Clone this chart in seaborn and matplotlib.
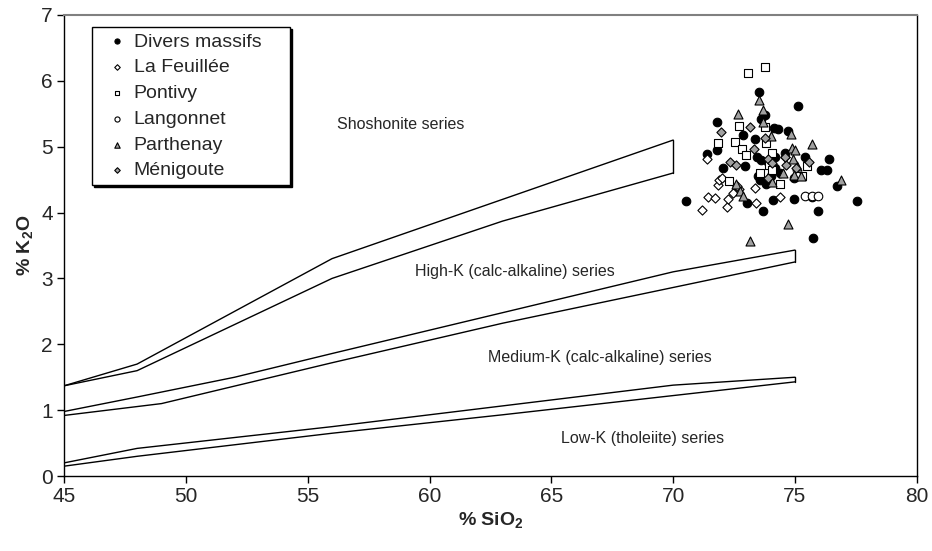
import numpy as np
import pandas as pd
import matplotlib
matplotlib.use('Agg')
import matplotlib.pyplot as plt
import seaborn as sns

# Boundary bands (SiO2, K2O)
shosho_up_x = [45, 48, 56, 70]
shosho_up_y = [1.37, 1.70, 3.30, 5.10]
shosho_lo_x = [45, 48, 56, 63, 70]
shosho_lo_y = [1.37, 1.60, 3.00, 3.87, 4.60]

highk_up_x = [45, 48, 52, 56, 70, 75]
highk_up_y = [0.98, 1.20, 1.50, 1.86, 3.10, 3.43]
highk_lo_x = [45, 49, 56, 63, 75]
highk_lo_y = [0.92, 1.10, 1.72, 2.32, 3.25]

lowk_up_x = [45, 48, 56, 70, 75]
lowk_up_y = [0.20, 0.42, 0.75, 1.38, 1.50]
lowk_lo_x = [45, 48, 56, 63, 75]
lowk_lo_y = [0.15, 0.30, 0.65, 0.93, 1.43]

# Samples
divers_x = [73.53, 75.14, 71.80, 73.75, 73.61, 74.13, 74.30, 74.70, 71.37, 71.80,
            72.87, 73.34, 72.05, 72.93, 73.45, 73.60, 74.20, 74.60, 75.40, 76.40,
            76.07, 76.30, 76.73, 77.55, 70.52, 73.04, 73.70, 74.10, 74.95, 75.69,
            75.95, 75.72, 73.58, 73.79, 74.40, 74.98, 73.90, 74.00, 74.20, 73.50]
divers_y = [5.83, 5.62, 5.37, 5.48, 5.42, 5.28, 5.27, 5.23, 4.89, 4.95,
            5.18, 5.11, 4.67, 4.70, 4.85, 4.80, 4.85, 4.90, 4.84, 4.81,
            4.65, 4.65, 4.41, 4.18, 4.17, 4.14, 4.03, 4.19, 4.20, 4.24,
            4.02, 3.62, 4.49, 4.44, 4.60, 4.52, 4.76, 4.55, 4.68, 4.55]

feuillee_x = [71.39, 71.19, 71.42, 71.70, 72.19, 72.27, 71.83, 71.89, 72.00, 72.46,
              72.70, 73.39, 73.36, 74.40, 72.60]
feuillee_y = [4.82, 4.04, 4.23, 4.22, 4.09, 4.20, 4.42, 4.49, 4.52, 4.30,
              4.35, 4.14, 4.37, 4.24, 4.40]

pontivy_x = [73.06, 73.76, 72.71, 71.86, 72.52, 72.83, 72.97, 73.76, 73.79, 74.06,
             73.95, 73.58, 74.38, 72.31, 74.06, 75.50, 75.30]
pontivy_y = [6.12, 6.21, 5.31, 5.05, 5.07, 4.96, 4.87, 5.30, 5.06, 4.90,
             4.72, 4.60, 4.44, 4.48, 4.65, 4.70, 4.55]

langonnet_x = [75.42, 75.68, 75.94, 75.10]
langonnet_y = [4.25, 4.25, 4.25, 4.55]

parthenay_x = [73.51, 72.67, 73.69, 73.68, 74.84, 75.71, 74.88, 75.00, 76.87, 72.58,
               72.76, 72.87, 74.72, 73.15, 74.06, 74.51, 74.95, 75.25, 75.09, 74.90,
               74.00]
parthenay_y = [5.71, 5.50, 5.56, 5.38, 5.19, 5.04, 4.98, 4.95, 4.49, 4.44,
               4.32, 4.25, 3.83, 3.57, 4.47, 4.60, 4.57, 4.56, 4.70, 4.82,
               5.16]

menigoute_x = [71.98, 73.17, 73.31, 73.75, 72.32, 72.56, 73.88, 74.06, 74.57, 74.62,
               75.58, 75.06, 73.90, 74.60]
menigoute_y = [5.22, 5.30, 4.96, 5.13, 4.76, 4.72, 4.82, 4.75, 4.84, 4.72,
               4.76, 4.67, 4.52, 4.84]

series_labels = ['Shoshonite series', 'High-K (calc-alkaline) series',
                 'Medium-K (calc-alkaline) series', 'Low-K (tholeiite) series']
series_pos_x = [58.8, 63.5, 67.0, 68.75]
series_pos_y = [5.34, 3.10, 1.80, 0.57]

sns.set_style('white')
plt.rcParams['font.family'] = ['Liberation Sans', 'DejaVu Sans']

fig = plt.figure(figsize=(9.32, 5.51), dpi=100)
ax = fig.add_axes([0.0687, 0.136, 0.915, 0.837])

# band outlines
line_kw = dict(color='black', linewidth=1.0, sort=False, estimator=None, legend=False)
sns.lineplot(x=shosho_up_x, y=shosho_up_y, ax=ax, **line_kw)
sns.lineplot(x=shosho_lo_x, y=shosho_lo_y, ax=ax, **line_kw)
sns.lineplot(x=[shosho_up_x[-1], shosho_lo_x[-1]], y=[shosho_up_y[-1], shosho_lo_y[-1]], ax=ax, **line_kw)
sns.lineplot(x=highk_up_x, y=highk_up_y, ax=ax, **line_kw)
sns.lineplot(x=highk_lo_x, y=highk_lo_y, ax=ax, **line_kw)
sns.lineplot(x=[highk_up_x[-1], highk_lo_x[-1]], y=[highk_up_y[-1], highk_lo_y[-1]], ax=ax, **line_kw)
sns.lineplot(x=lowk_up_x, y=lowk_up_y, ax=ax, **line_kw)
sns.lineplot(x=lowk_lo_x, y=lowk_lo_y, ax=ax, **line_kw)
sns.lineplot(x=[lowk_up_x[-1], lowk_lo_x[-1]], y=[lowk_up_y[-1], lowk_lo_y[-1]], ax=ax, **line_kw)

groups = [
    ('Divers massifs', divers_x, divers_y, 'o', 'black', 38),
    ('La Feuillée', feuillee_x, feuillee_y, 'D', 'white', 22),
    ('Pontivy', pontivy_x, pontivy_y, 's', 'white', 32),
    ('Langonnet', langonnet_x, langonnet_y, 'o', 'white', 38),
    ('Parthenay', parthenay_x, parthenay_y, '^', '#a0a0a0', 42),
    ('Ménigoute', menigoute_x, menigoute_y, 'D', '#a0a0a0', 22),
]
for name, gx, gy, mk, fc, sz in groups:
    sns.scatterplot(x=gx, y=gy, ax=ax, marker=mk, color=fc, edgecolor='black',
                    linewidth=0.8, s=sz, label=name, zorder=3)

for txt, tx, ty in zip(series_labels, series_pos_x, series_pos_y):
    ax.text(tx, ty, txt, ha='center', va='center', fontsize=11.5)

ax.set_xlim(45, 80)
ax.set_ylim(0, 7)
ax.set_xticks(np.arange(45, 81, 5))
ax.set_yticks(np.arange(0, 8, 1))
ax.tick_params(axis='both', labelsize=15, length=5, width=1, direction='out',
               color='black', bottom=True, left=True, pad=3)
ax.set_xlabel('% SiO$_\\mathregular{2}$', fontsize=14, fontweight='bold', labelpad=3)
ax.set_ylabel('% K$_\\mathregular{2}$O', fontsize=14, fontweight='bold', labelpad=4)

for side in ['left', 'bottom', 'right']:
    ax.spines[side].set_color('black')
    ax.spines[side].set_linewidth(1.0)
ax.spines['top'].set_color('#808080')
ax.spines['top'].set_linewidth(1.5)

leg = ax.legend(loc='upper left', bbox_to_anchor=(0.0328, 0.5, 0.232, 0.4735),
                mode='expand', fontsize=14, frameon=True, fancybox=False,
                shadow={'color': 'black', 'alpha': 1.0, 'ox': 1.5, 'oy': -1.5},
                markerscale=0.6, handletextpad=-0.15, handlelength=2.0,
                borderpad=0.3, labelspacing=0.42, borderaxespad=0)
leg.get_frame().set_edgecolor('black')
leg.get_frame().set_linewidth(1.0)

fig.savefig('out.png', dpi=100)
